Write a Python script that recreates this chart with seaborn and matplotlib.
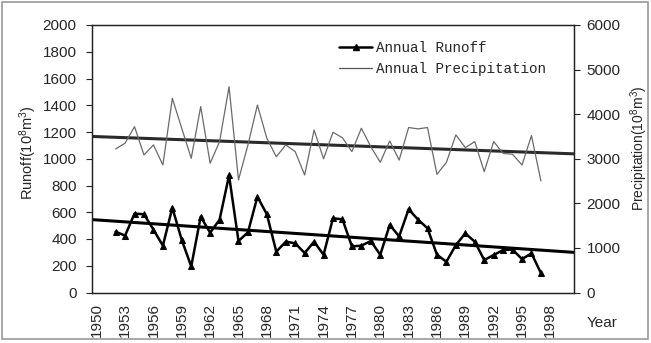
import numpy as np
import pandas as pd
import matplotlib
matplotlib.use("Agg")
import matplotlib.pyplot as plt
from matplotlib.lines import Line2D
from matplotlib.patches import Rectangle
import seaborn as sns

# ---------------- data ----------------
years = list(range(1952, 1998))
runoff = [455, 425, 590, 585, 470, 350, 634, 392, 195, 567,
          447, 545, 875, 385, 450, 716, 585, 305, 380, 368,
          295, 380, 282, 555, 547, 345, 350, 385, 282, 505,
          420, 622, 545, 480, 282, 230, 355, 442, 380, 243,
          280, 318, 320, 250, 293, 145]
precip = [3220, 3350, 3720, 3085, 3310, 2860, 4355, 3680, 3010, 4170,
          2900, 3385, 4615, 2525, 3310, 4205, 3460, 3045, 3310, 3160,
          2635, 3645, 3000, 3595, 3470, 3160, 3685, 3270, 2920, 3400,
          2970, 3700, 3670, 3700, 2650, 2920, 3535, 3250, 3385, 2710,
          3385, 3120, 3100, 2860, 3520, 2500]
trend_years = [1949.5, 2000.5]
runoff_trend = [545, 300]
precip_trend = [3500, 3110]
xtick_years = list(range(1950, 1999, 3))
left_ticks = list(range(0, 2001, 200))
right_ticks = list(range(0, 6001, 1000))

df = pd.DataFrame({"Year": years, "Runoff": runoff, "Precip": precip})
tr = pd.DataFrame({"Year": trend_years, "Runoff": runoff_trend, "Precip": precip_trend})

# ---------------- style ----------------
sns.set_style("white")
plt.rcParams["font.family"] = ["Liberation Sans", "DejaVu Sans"]
plt.rcParams["mathtext.default"] = "regular"

fig = plt.figure(figsize=(6.51, 3.43), dpi=100)
ax = fig.add_axes([92 / 651, 1 - 292.5 / 343, (574 - 92) / 651, (292.5 - 25) / 343])
ax2 = ax.twinx()

# trend lines
sns.lineplot(data=tr, x="Year", y="Runoff", ax=ax, color="black", lw=2.2, legend=False)
sns.lineplot(data=tr, x="Year", y="Precip", ax=ax2, color="#2a2a2a", lw=2.2, legend=False)

# series
sns.lineplot(data=df, x="Year", y="Precip", ax=ax2, color="#6a6a6a", lw=0.9, legend=False)
sns.lineplot(data=df, x="Year", y="Runoff", ax=ax, color="black", lw=1.8,
             marker="^", markersize=4, markeredgecolor="black",
             markerfacecolor="black", legend=False)

ax.set_xlim(1949.5, 2000.5)
ax.set_ylim(0, 2000)
ax2.set_ylim(0, 6000)

ax.set_xticks(xtick_years)
ax.set_xticklabels([str(y) for y in xtick_years], rotation=90, fontsize=11)
ax.set_xticks(np.arange(1949.5, 2001, 1), minor=True)
ax.tick_params(axis="x", which="major", length=0, pad=7.5)
ax.tick_params(axis="x", which="minor", direction="in", length=3, width=0.8, color="#222")

ax.set_yticks(left_ticks)
ax.set_yticklabels([str(v) for v in left_ticks], fontsize=11)
ax.tick_params(axis="y", direction="out", length=4, width=0.8, color="#222", pad=7)
ax2.set_yticks(right_ticks)
ax2.set_yticklabels([str(v) for v in right_ticks], fontsize=11)
ax2.tick_params(axis="y", direction="out", length=4, width=0.8, color="#222", pad=5)

for a in (ax, ax2):
    a.set_xlabel("")
    a.set_ylabel("")
    for s in a.spines.values():
        s.set_visible(True)
        s.set_color("#222222")
        s.set_linewidth(0.9)

fig.text(28 / 651, 1 - 153 / 343, "Runoff(10$^8$m$^3$)", rotation=90,
         ha="center", va="center", fontsize=10.5)
fig.text(639 / 651, 1 - 148 / 343, "Precipitation(10$^8$m$^3$)", rotation=90,
         ha="center", va="center", fontsize=10)
fig.text(602 / 651, 1 - 323 / 343, "Year", ha="center", va="center", fontsize=11)

handles = [
    Line2D([], [], color="black", lw=1.8, marker="^", markersize=4),
    Line2D([], [], color="#555555", lw=0.9),
]
fig.legend(handles, ["Annual Runoff", "Annual Precipitation"],
           loc="upper left", bbox_to_anchor=(332 / 651, 1 - 34 / 343),
           frameon=False, borderpad=0, handlelength=2.3, handletextpad=0.3,
           labelspacing=0.45, prop={"family": "Liberation Mono", "size": 10.3})

# outer chart border
fig.patches.append(Rectangle((2 / 651, 4 / 343), 646 / 651, 337 / 343,
                             transform=fig.transFigure, fill=False,
                             edgecolor="#9a9a9a", lw=1.2))

fig.savefig("out.png", dpi=100)
